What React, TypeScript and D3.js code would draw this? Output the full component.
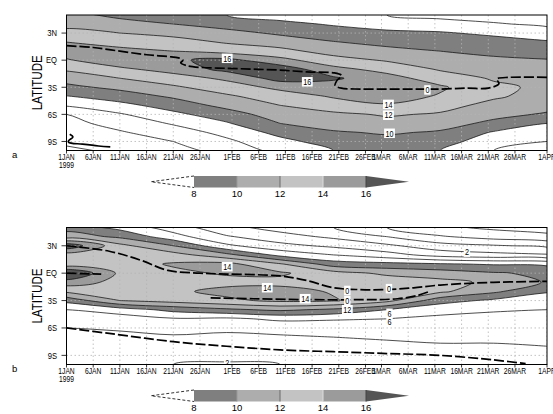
import React, { useRef, useEffect } from 'react';
import * as d3 from 'd3';

const W = 553;
const H = 414;

// grid of the shaded field: one column every 10 days from 1JAN1999 (day 0)
const gridDays = [0, 10, 20, 30, 40, 50, 60, 70, 80, 90];
// rows from 5N down to 10S
const gridLats = [5, 4, 3, 2, 1, 0, -1, -2, -3, -4, -5, -6, -7, -8, -9, -10];

// panel a, one column per grid day (5N .. 10S)
const aJan01 = [10.5, 11.4, 12.6, 14.0, 15.0, 13.8, 12.3, 10.8, 9.5, 7.9, 6.2, 4.0, 3.4, 2.8, 2.3, 1.7];
const aJan11 = [9.6, 10.6, 12.0, 13.2, 14.6, 15.3, 13.6, 12.0, 10.5, 9.0, 7.4, 5.8, 4.7, 3.8, 3.0, 2.3];
const aJan21 = [8.8, 10.0, 11.4, 12.8, 14.0, 15.7, 14.8, 13.1, 11.7, 10.3, 8.9, 7.5, 6.2, 5.0, 4.0, 3.2];
const aJan31 = [8.0, 9.2, 10.6, 11.8, 13.2, 16.6, 16.6, 14.4, 13.0, 11.7, 10.6, 9.1, 7.8, 6.6, 5.6, 4.8];
const aFeb10 = [7.2, 8.5, 9.7, 11.0, 12.6, 14.6, 17.2, 16.8, 14.5, 13.0, 12.0, 11.0, 10.0, 8.6, 7.4, 6.6];
const aFeb20 = [6.6, 7.8, 8.9, 10.1, 11.2, 12.8, 14.6, 16.3, 15.0, 14.2, 13.1, 11.6, 10.8, 9.8, 8.9, 8.0];
const aMar02 = [6.0, 7.2, 8.4, 9.4, 10.6, 11.8, 13.3, 14.8, 15.3, 14.9, 13.8, 12.2, 11.3, 10.2, 9.4, 8.8];
const aMar12 = [5.4, 6.8, 8.2, 9.2, 10.0, 10.8, 11.8, 13.0, 14.3, 13.8, 12.7, 11.8, 10.7, 9.8, 8.9, 8.0];
const aMar22 = [5.0, 6.2, 7.6, 8.8, 9.6, 10.3, 10.8, 11.8, 12.4, 12.3, 11.4, 10.5, 9.6, 7.8, 6.8, 6.0];
const aApr01 = [4.4, 5.6, 7.0, 8.2, 9.2, 10.1, 10.5, 11.2, 11.6, 11.2, 10.6, 9.8, 8.0, 6.9, 6.0, 5.3];

// panel b
const bJan01 = [9.2, 11.0, 17.5, 13.0, 12.6, 18.4, 15.0, 12.4, 8.6, 6.0, 4.8, 4.0, 3.4, 2.8, 2.4, 2.0];
const bJan11 = [7.4, 9.6, 12.6, 13.4, 13.2, 13.6, 13.4, 13.2, 12.0, 7.0, 5.0, 4.2, 3.6, 3.0, 2.5, 2.0];
const bJan21 = [5.0, 6.8, 10.0, 12.8, 14.2, 13.6, 13.4, 13.6, 12.8, 8.6, 5.8, 4.6, 3.8, 3.2, 2.6, 2.0];
const bJan31 = [2.6, 4.2, 6.4, 10.6, 14.6, 14.2, 13.4, 14.6, 13.6, 9.6, 5.6, 4.4, 3.6, 3.0, 2.5, 1.8];
const bFeb10 = [1.2, 2.8, 4.6, 7.4, 12.2, 14.3, 13.4, 14.8, 14.4, 10.4, 6.4, 4.6, 3.8, 3.2, 2.6, 2.0];
const bFeb20 = [0.0, 1.6, 3.6, 6.0, 9.0, 12.8, 13.2, 13.8, 14.2, 9.6, 6.2, 4.8, 4.0, 3.2, 2.6, 2.2];
const bMar02 = [-2.0, 0.0, 2.4, 4.8, 8.6, 11.6, 13.2, 13.4, 12.6, 8.0, 6.0, 5.0, 4.2, 3.6, 3.0, 2.6];
const bMar12 = [-3.6, -1.8, 0.8, 3.2, 8.2, 11.0, 12.6, 12.4, 8.8, 6.6, 5.6, 5.0, 4.4, 3.8, 3.2, 2.8];
const bMar22 = [-4.4, -2.8, 0.2, 2.6, 7.8, 10.2, 11.6, 10.4, 7.6, 6.2, 5.4, 4.8, 4.4, 3.8, 3.4, 3.0];
const bApr01 = [-5.0, -3.4, -0.4, 2.2, 7.6, 9.6, 9.8, 8.2, 6.8, 6.0, 5.4, 4.8, 4.4, 4.0, 3.6, 3.2];

// thick dashed zero lines of the overlaid field, [day, lat]
const aZeroLine = [[0, 1.6], [5, 1.4], [10, 1.0], [15, 0.6], [19, 0.4], [21, 0.25], [21.8, 0.0], [21.4, -0.3], [22.5, -0.6], [25, -0.8], [30, -0.9], [35, -1.0], [40, -1.1], [45, -1.3], [50, -1.4], [51.5, -1.7], [50.6, -2.3], [50.3, -2.8], [51.5, -3.1], [55, -3.2], [60, -3.2], [65, -3.2], [70, -3.2], [75, -3.1], [79, -3.1], [81, -2.6], [80.6, -2.1], [83, -1.9], [90, -1.9]];
const aSouthLine = [[0.6, -8.2], [1.2, -8.5], [0.4, -8.9], [0.4, -9.1], [3, -9.3], [6, -9.5], [8.2, -9.6]];
const bZeroNorth = [[0, 3.0], [8, 2.4], [14, 1.4], [19, 0.3], [25, 0.0], [30, -0.1], [40, -0.3], [45, -0.8], [50, -1.6], [55, -1.8], [60, -1.8], [65, -1.6], [70, -1.3], [80, -1.0], [90, -0.9]];
const bZeroEq = [[0, 0.0], [3, -0.05], [6.5, -0.1]];
const bZeroSouth = [[27, -2.7], [35, -2.8], [45, -2.9], [55, -2.9], [62, -2.8], [66, -2.4], [68, -2.0]];
const bZeroBottom = [[0, -6.0], [8, -6.6], [20, -7.5], [30, -8.0], [40, -8.4], [50, -8.6], [60, -8.8], [70, -9.0], [80, -9.5], [86, -9.9]];

// contour labels [day, lat, text]
const aLabels: [number, number, string][] = [[30.1, 0.2, '16'], [45.1, -2.4, '16'], [67.6, -3.3, '0'], [60.3, -4.9, '14'], [60.3, -6.1, '12'], [60.5, -8.1, '10']];
const bLabels: [number, number, string][] = [[30.1, 0.7, '14'], [37.6, -1.6, '14'], [44.7, -2.8, '14'], [52.6, -1.9, '0'], [52.6, -3.0, '0'], [52.6, -4.0, '12'], [60.4, -1.7, '0'], [60.5, -4.4, '6'], [60.5, -5.3, '6'], [75, 2.3, '2'], [30.1, -9.8, '2']];

const shadeLevels = [8, 10, 12, 14, 16];
const shadeColors = ['#7f7f7f', '#adadad', '#c3c3c3', '#9b9b9b', '#555555'];
const lineLevelsA = [2, 4, 6, 8, 10, 12, 14, 16];
const lineLevelsB = [-4, -2, 0, 2, 4, 6, 8, 10, 12, 14, 16];

const tickDays = [0, 5, 10, 15, 20, 25, 31, 36, 41, 46, 51, 56, 59, 64, 69, 74, 79, 84, 90];
const tickLabels = ['1JAN', '6JAN', '11JAN', '16JAN', '21JAN', '26JAN', '1FEB', '6FEB', '11FEB', '16FEB', '21FEB', '26FEB', '1MAR', '6MAR', '11MAR', '16MAR', '21MAR', '26MAR', '1APR'];
const latTicks = [3, 0, -3, -6, -9];
const latLabels = ['3N', 'EQ', '3S', '6S', '9S'];
const barValues = [8, 10, 12, 14, 16];

const PLOT_L = 66.5;
const PLOT_R = 547;
const SANS = "'Liberation Sans', Arial, sans-serif";

const panels = [
    { key: 'a', top: 15, bottom: 150.5, bar: 176, columns: [aJan01, aJan11, aJan21, aJan31, aFeb10, aFeb20, aMar02, aMar12, aMar22, aApr01], lines: lineLevelsA, overlays: [aZeroLine], solid: [aSouthLine], labels: aLabels },
    { key: 'b', top: 227.5, bottom: 364.5, bar: 390, columns: [bJan01, bJan11, bJan21, bJan31, bFeb10, bFeb20, bMar02, bMar12, bMar22, bApr01], lines: lineLevelsB, overlays: [bZeroNorth, bZeroEq, bZeroSouth, bZeroBottom], solid: [], labels: bLabels },
];

type Panel = typeof panels[number];
type Sel = d3.Selection<any, unknown, null, undefined>;

// GrADS-like condensed lettering: Liberation Sans squeezed horizontally
function narrowText(parent: Sel, x: number, y: number, size: number, anchor: string, text: string, rotate = 0) {
    parent.append('text')
        .attr('transform', `translate(${x},${y}) rotate(${rotate}) scale(0.8,1)`)
        .attr('text-anchor', anchor)
        .attr('font-family', SANS)
        .attr('font-size', size)
        .attr('fill', '#000')
        .text(text);
}

function drawPanel(svg: Sel, p: Panel) {
    const x = d3.scaleLinear().domain([0, 90]).range([PLOT_L, PLOT_R]);
    const y = d3.scaleLinear().domain([5, -10]).range([p.top, p.bottom]);

    const nx = gridDays.length;
    const ny = gridLats.length;
    // grid index space -> day / lat (value i sits at i + 0.5)
    const gx = d3.scaleLinear().domain([0.5, nx - 0.5]).range([gridDays[0], gridDays[nx - 1]]);
    const gy = d3.scaleLinear().domain([0.5, ny - 0.5]).range([gridLats[0], gridLats[ny - 1]]);

    const values: number[] = [];
    for (let j = 0; j < ny; j++) for (let i = 0; i < nx; i++) values.push(p.columns[i][j]);

    const contours = d3.contours().size([nx, ny]);
    const ring = d3.line<number[]>()
        .x(d => x(gx(d[0])))
        .y(d => y(gy(d[1])))
        .curve(d3.curveCatmullRomClosed.alpha(0.5));
    const toPath = (mp: d3.ContourMultiPolygon) =>
        mp.coordinates.map(poly => poly.map(r => ring(r.slice(0, -1)) || '').join('')).join('');

    const clipId = `clip-${p.key}`;
    svg.append('defs').append('clipPath').attr('id', clipId)
        .append('rect')
        .attr('x', PLOT_L).attr('y', p.top)
        .attr('width', PLOT_R - PLOT_L).attr('height', p.bottom - p.top);

    const g = svg.append('g').attr('clip-path', `url(#${clipId})`);

    // shading
    shadeLevels.forEach((lev, i) => {
        g.append('path')
            .attr('d', toPath(contours.contour(values, lev)))
            .attr('fill', shadeColors[i])
            .attr('fill-rule', 'evenodd');
    });

    // dotted grid
    tickDays.forEach(d => {
        g.append('line')
            .attr('x1', x(d)).attr('x2', x(d))
            .attr('y1', p.top).attr('y2', p.bottom)
            .attr('stroke', '#b4b4b4').attr('stroke-width', 0.8).attr('stroke-dasharray', '1.5,2.5');
    });
    latTicks.forEach(l => {
        g.append('line')
            .attr('x1', PLOT_L).attr('x2', PLOT_R)
            .attr('y1', y(l)).attr('y2', y(l))
            .attr('stroke', '#b4b4b4').attr('stroke-width', 0.8).attr('stroke-dasharray', '1.5,2.5');
    });

    // contour lines
    p.lines.forEach(lev => {
        g.append('path')
            .attr('d', toPath(contours.contour(values, lev)))
            .attr('fill', 'none')
            .attr('stroke', '#111')
            .attr('stroke-width', 0.75);
    });

    // overlaid zero lines
    const open = d3.line<number[]>()
        .x(d => x(d[0]))
        .y(d => y(d[1]))
        .curve(d3.curveCatmullRom.alpha(0.5));
    p.overlays.forEach(pts => {
        g.append('path')
            .attr('d', open(pts))
            .attr('fill', 'none')
            .attr('stroke', '#000')
            .attr('stroke-width', 1.7)
            .attr('stroke-dasharray', '10,3');
    });
    p.solid.forEach(pts => {
        g.append('path')
            .attr('d', open(pts))
            .attr('fill', 'none')
            .attr('stroke', '#000')
            .attr('stroke-width', 1.7);
    });

    // contour labels
    p.labels.forEach(([d, l, t]) => {
        const w = t.length * 4.4 + 2;
        g.append('rect')
            .attr('x', x(d) - w / 2).attr('y', y(l) - 4.8)
            .attr('width', w).attr('height', 9.5)
            .attr('fill', '#fff');
        narrowText(g, x(d), y(l) + 3.2, 9, 'middle', t);
    });

    // frame
    svg.append('rect')
        .attr('x', PLOT_L).attr('y', p.top)
        .attr('width', PLOT_R - PLOT_L).attr('height', p.bottom - p.top)
        .attr('fill', 'none').attr('stroke', '#000').attr('stroke-width', 1);

    // y axis
    latTicks.forEach((l, i) => {
        svg.append('line')
            .attr('x1', PLOT_L - 5).attr('x2', PLOT_L)
            .attr('y1', y(l)).attr('y2', y(l))
            .attr('stroke', '#000').attr('stroke-width', 0.8);
        narrowText(svg, 57, y(l) + 3.3, 9.5, 'end', latLabels[i]);
    });
    narrowText(svg, 42, (p.top + p.bottom) / 2, 14.5, 'middle', 'LATITUDE', -90);

    // x axis
    tickDays.forEach((d, i) => {
        svg.append('line')
            .attr('x1', x(d)).attr('x2', x(d))
            .attr('y1', p.bottom).attr('y2', p.bottom + 3)
            .attr('stroke', '#000').attr('stroke-width', 0.8);
        narrowText(svg, x(d), p.bottom + 9.3, 8.4, 'middle', tickLabels[i]);
    });
    narrowText(svg, x(0), p.bottom + 17.3, 8.4, 'middle', '1999');

    svg.append('text')
        .attr('x', 12).attr('y', p.bottom + 7)
        .attr('font-family', SANS)
        .attr('font-size', 9.5)
        .text(p.key);

    // colour bar
    const c = d3.scaleLinear().domain([8, 16]).range([194, 366]);
    const top = p.bar;
    const h = 11.5;
    svg.append('path')
        .attr('d', `M${c(8)},${top}L${c(6)},${top + h / 2}L${c(8)},${top + h}`)
        .attr('fill', 'none').attr('stroke', '#000')
        .attr('stroke-width', 0.8).attr('stroke-dasharray', '3,2');
    barValues.slice(0, -1).forEach((v, i) => {
        svg.append('rect')
            .attr('x', c(v)).attr('y', top)
            .attr('width', c(barValues[i + 1]) - c(v)).attr('height', h)
            .attr('fill', shadeColors[i]);
    });
    svg.append('path')
        .attr('d', `M${c(16)},${top}L${c(18)},${top + h / 2}L${c(16)},${top + h}Z`)
        .attr('fill', shadeColors[4]);
    const dividers = ['#9a9a9a', '#6a6a6a', '#dddddd', '#444444'];
    barValues.slice(1).forEach((v, i) => {
        svg.append('line')
            .attr('x1', c(v)).attr('x2', c(v))
            .attr('y1', top).attr('y2', top + h)
            .attr('stroke', dividers[i]).attr('stroke-width', 1);
    });
    barValues.forEach(v => {
        svg.append('text')
            .attr('x', c(v)).attr('y', top + h + 9.5)
            .attr('text-anchor', 'middle')
            .attr('font-family', SANS)
            .attr('font-size', 9.5)
            .text(String(v));
    });
}

const App: React.FC = () => {
    const svgRef = useRef<SVGSVGElement | null>(null);

    useEffect(() => {
        if (!svgRef.current) return;
        const svg = d3.select(svgRef.current);
        svg.selectAll('*').remove();
        svg.append('rect').attr('width', W).attr('height', H).attr('fill', '#fff');
        panels.forEach(p => drawPanel(svg as Sel, p));
    }, []);

    return (
        <svg
            ref={svgRef}
            width={W}
            height={H}
            style={{ position: 'absolute', left: 0, top: 0, display: 'block' }}
        />
    );
};

export default App;
